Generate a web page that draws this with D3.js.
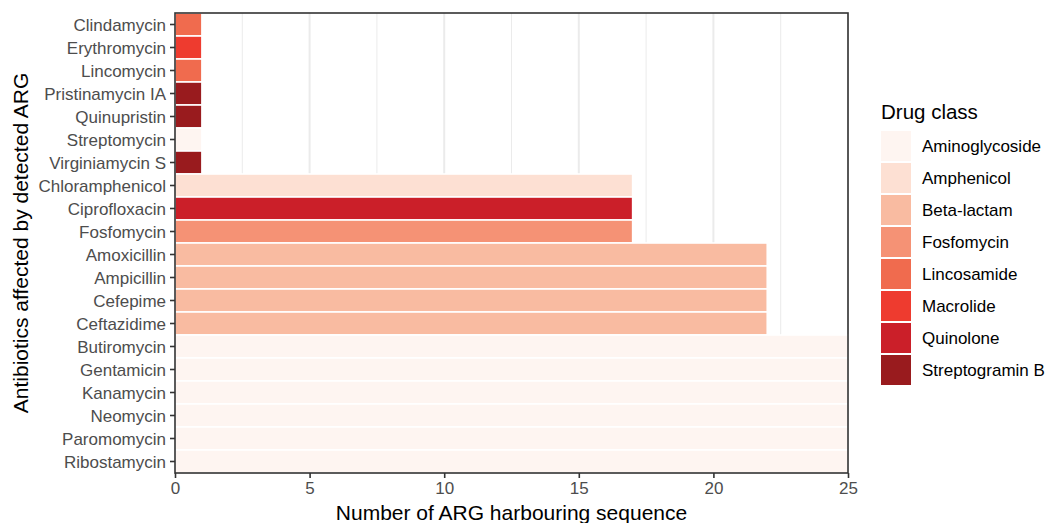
<!DOCTYPE html>
<html><head><meta charset="utf-8">
<script src="https://cdn.jsdelivr.net/npm/d3@7"></script>
<style>body{margin:0;background:#fff;} text{font-family:"Liberation Sans",Arial,sans-serif;}</style>
</head><body><svg id="c" width="1045" height="523"></svg>
<script>
const antibiotics = ["Clindamycin","Erythromycin","Lincomycin","Pristinamycin IA","Quinupristin","Streptomycin","Virginiamycin S","Chloramphenicol","Ciprofloxacin","Fosfomycin","Amoxicillin","Ampicillin","Cefepime","Ceftazidime","Butiromycin","Gentamicin","Kanamycin","Neomycin","Paromomycin","Ribostamycin"];
const counts = [1,1,1,1,1,1,1,17,17,17,22,22,22,22,25,25,25,25,25,25];
const drugClass = ["Lincosamide","Macrolide","Lincosamide","Streptogramin B","Streptogramin B","Aminoglycoside","Streptogramin B","Amphenicol","Quinolone","Fosfomycin","Beta-lactam","Beta-lactam","Beta-lactam","Beta-lactam","Aminoglycoside","Aminoglycoside","Aminoglycoside","Aminoglycoside","Aminoglycoside","Aminoglycoside"];
const classes = ["Aminoglycoside","Amphenicol","Beta-lactam","Fosfomycin","Lincosamide","Macrolide","Quinolone","Streptogramin B"];
const classColors = ["#fef5f1","#fde0d3","#f9bba1","#f59275","#f06b4e","#ee3b2f","#cb1f29","#991b1e"];
const xTicks = [0,5,10,15,20,25];
const xMinor = [2.5,7.5,12.5,17.5,22.5];

const svg = d3.select("#c");
const L=175,R=848,T=13,B=473;
const x = d3.scaleLinear().domain([0,25]).range([L,R]);
const y = d3.scaleBand().domain(antibiotics).range([T,B]).padding(0);
const color = d3.scaleOrdinal().domain(classes).range(classColors);

// grid
svg.append("g").selectAll("line").data(xMinor).join("line")
  .attr("x1",d=>x(d)).attr("x2",d=>x(d)).attr("y1",T).attr("y2",B)
  .attr("stroke","#ebebeb").attr("stroke-width",1);
svg.append("g").selectAll("line").data(xTicks).join("line")
  .attr("x1",d=>x(d)).attr("x2",d=>x(d)).attr("y1",T).attr("y2",B)
  .attr("stroke","#ebebeb").attr("stroke-width",2);

// bars
svg.append("g").selectAll("rect").data(antibiotics).join("rect")
  .attr("x",x(0)).attr("y",d=>y(d))
  .attr("width",(d,i)=>x(counts[i])-x(0)).attr("height",y.bandwidth())
  .attr("fill",(d,i)=>color(drugClass[i]))
  .attr("stroke","#fff").attr("stroke-width",1.6);

// panel border
svg.append("rect").attr("x",L).attr("y",T).attr("width",R-L).attr("height",B-T)
  .attr("fill","none").attr("stroke","#333").attr("stroke-width",1.6);

// axes
const xa = svg.append("g").attr("transform",`translate(0,${B})`)
  .call(d3.axisBottom(x).tickValues(xTicks).tickSize(5).tickPadding(4).tickFormat(d3.format("d")));
const ya = svg.append("g").attr("transform",`translate(${L},0)`)
  .call(d3.axisLeft(y).tickSize(5).tickPadding(4));
[xa,ya].forEach(a=>{
  a.select(".domain").remove();
  a.selectAll(".tick line").attr("stroke","#333").attr("stroke-width",1.6);
  a.selectAll(".tick text").attr("fill","#4d4d4d").style("font-size","17px");
});
ya.selectAll(".tick text").attr("dy","0.36em");

// titles
svg.append("text").attr("x",(L+R)/2).attr("y",520).attr("text-anchor","middle")
  .style("font-size","21px").attr("fill","#000").text("Number of ARG harbouring sequence");
svg.append("text").attr("transform",`translate(28,${(T+B)/2}) rotate(-90)`).attr("text-anchor","middle")
  .style("font-size","21px").attr("fill","#000").text("Antibiotics affected by detected ARG");

// legend
const lg = svg.append("g");
lg.append("text").attr("x",881).attr("y",119).style("font-size","20.5px").attr("fill","#000").text("Drug class");
const items = lg.selectAll("g.it").data(classes).join("g").attr("class","it")
  .attr("transform",(d,i)=>`translate(881,${131+i*32})`);
items.append("rect").attr("width",30).attr("height",30).attr("fill",d=>color(d));
items.append("text").attr("x",41).attr("y",15).attr("dy","0.36em").style("font-size","17px").attr("fill","#000").text(d=>d);
</script></body></html>
